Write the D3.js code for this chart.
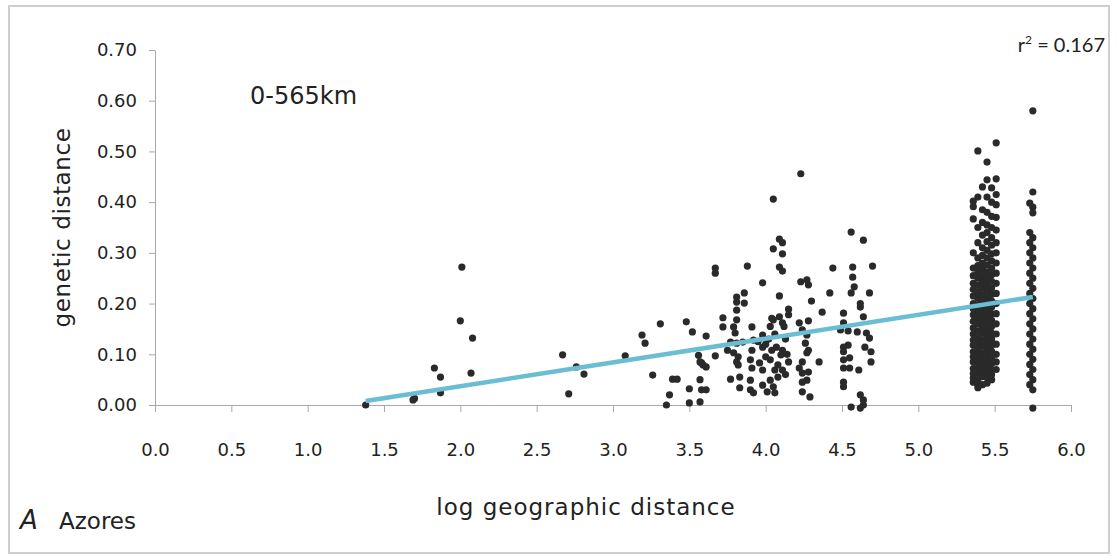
<!DOCTYPE html>
<html>
<head>
<meta charset="utf-8">
<script src="https://cdn.jsdelivr.net/npm/d3@7"></script>
<style>
  body { margin: 0; background: #fff; }
  text { fill: #222; }
</style>
</head>
<body>
<div id="chart"></div>
<script>
//axis ticks
const xTicks = [0, 0.5, 1, 1.5, 2, 2.5, 3, 3.5, 4, 4.5, 5, 5.5, 6];
const yTicks = [0, 0.1, 0.2, 0.3, 0.4, 0.5, 0.6, 0.7];

//pairs [log geographic distance, genetic distance]
const nearPairs = [
  [1.38, 0.000], [1.70, 0.013], [1.69, 0.010], [1.83, 0.073], [1.87, 0.055],
  [1.87, 0.024], [2.01, 0.272], [2.00, 0.166], [2.08, 0.132], [2.07, 0.063],
  [2.67, 0.099], [2.71, 0.022], [2.76, 0.075], [2.81, 0.061]
];

const midPairs = [
  [3.08, 0.097], [3.19, 0.138], [3.21, 0.122], [3.31, 0.160], [3.26, 0.059],
  [3.39, 0.051], [3.42, 0.051], [3.35, 0.000], [3.37, 0.020], [3.48, 0.164],
  [3.52, 0.144], [3.50, 0.032], [3.50, 0.004], [3.61, 0.136], [3.56, 0.098],
  [3.57, 0.085], [3.59, 0.079], [3.61, 0.075], [3.67, 0.097], [3.57, 0.050],
  [3.58, 0.030], [3.57, 0.006], [3.61, 0.030], [3.67, 0.270], [3.67, 0.260],
  [3.88, 0.274], [4.05, 0.406], [4.09, 0.327], [4.11, 0.320], [4.05, 0.308],
  [4.11, 0.298], [4.09, 0.272], [4.11, 0.264], [3.98, 0.241], [3.81, 0.213],
  [3.86, 0.221], [3.81, 0.203], [3.86, 0.201], [3.81, 0.187], [4.09, 0.215],
  [3.72, 0.172], [3.81, 0.168], [3.72, 0.154], [3.79, 0.154], [3.91, 0.154],
  [3.80, 0.142], [3.98, 0.138], [4.04, 0.171], [4.09, 0.174], [4.11, 0.162],
  [3.77, 0.124], [3.81, 0.122], [3.85, 0.124], [3.92, 0.128], [3.75, 0.108],
  [3.79, 0.103], [3.82, 0.095], [3.91, 0.108], [3.98, 0.114], [4.04, 0.108],
  [4.07, 0.114], [4.11, 0.108], [3.58, 0.083], [3.81, 0.085], [3.82, 0.079],
  [3.90, 0.089], [3.91, 0.073], [3.96, 0.083], [3.98, 0.069], [4.03, 0.089],
  [4.06, 0.069], [4.08, 0.079], [4.10, 0.099], [4.11, 0.069], [3.77, 0.051],
  [3.83, 0.055], [3.90, 0.049], [3.98, 0.039], [4.03, 0.049], [4.05, 0.036],
  [3.83, 0.034], [3.90, 0.030], [3.92, 0.024], [4.01, 0.026], [4.06, 0.024],
  [4.00, 0.120], [4.02, 0.130], [4.06, 0.140], [4.13, 0.130], [4.14, 0.100],
  [4.00, 0.095], [4.12, 0.155], [3.95, 0.125], [4.03, 0.155], [4.15, 0.085],
  [4.08, 0.055], [4.13, 0.060], [4.23, 0.456], [4.44, 0.270], [4.56, 0.341],
  [4.64, 0.325], [4.70, 0.274], [4.57, 0.272], [4.57, 0.252], [4.23, 0.243],
  [4.27, 0.247], [4.28, 0.237], [4.42, 0.221], [4.58, 0.233], [4.56, 0.221],
  [4.68, 0.221], [4.30, 0.205], [4.62, 0.200], [4.62, 0.193], [4.37, 0.183],
  [4.51, 0.181], [4.64, 0.174], [4.15, 0.189], [4.15, 0.178], [4.05, 0.168],
  [4.22, 0.162], [4.28, 0.166], [4.51, 0.162], [4.49, 0.148], [4.54, 0.146],
  [4.60, 0.144], [4.66, 0.142], [4.68, 0.132], [4.24, 0.148], [4.27, 0.138],
  [4.26, 0.122], [4.28, 0.108], [4.27, 0.103], [4.51, 0.114], [4.54, 0.118],
  [4.51, 0.105], [4.65, 0.114], [4.69, 0.105], [4.69, 0.085], [4.35, 0.085],
  [4.51, 0.089], [4.55, 0.093], [4.51, 0.073], [4.55, 0.073], [4.61, 0.069],
  [4.24, 0.085], [4.22, 0.073], [4.24, 0.063], [4.28, 0.065], [4.27, 0.049],
  [4.24, 0.045], [4.51, 0.045], [4.51, 0.036], [4.29, 0.016], [4.24, 0.026],
  [4.62, 0.020], [4.64, 0.010], [4.64, 0.000], [4.56, -0.004], [4.62, -0.006]
];

//far island pairs, one list of genetic distances per strip
const far536 = [0.402, 0.391, 0.367, 0.300, 0.270, 0.255, 0.240, 0.228, 0.215, 0.200, 0.190, 0.178,
  0.165, 0.152, 0.140, 0.128, 0.118, 0.105, 0.095, 0.085, 0.072, 0.062, 0.053, 0.045];
const far539 = [0.501, 0.410, 0.350, 0.320, 0.290, 0.275, 0.262, 0.250, 0.236, 0.222, 0.210, 0.197,
  0.184, 0.172, 0.160, 0.146, 0.133, 0.121, 0.110, 0.099, 0.087, 0.074, 0.063, 0.050, 0.040, 0.034];
const far542 = [0.430, 0.385, 0.360, 0.335, 0.310, 0.295, 0.280, 0.268, 0.255, 0.242, 0.230, 0.216,
  0.203, 0.190, 0.178, 0.166, 0.153, 0.141, 0.128, 0.116, 0.103, 0.090, 0.079, 0.068, 0.056, 0.040];
const far545 = [0.479, 0.444, 0.410, 0.380, 0.355, 0.340, 0.322, 0.305, 0.290, 0.276, 0.262, 0.249,
  0.236, 0.224, 0.211, 0.198, 0.186, 0.174, 0.161, 0.148, 0.136, 0.124, 0.112, 0.100, 0.088, 0.077,
  0.066, 0.055, 0.043];
const far548 = [0.428, 0.400, 0.372, 0.350, 0.330, 0.315, 0.298, 0.284, 0.270, 0.257, 0.244, 0.231,
  0.218, 0.205, 0.193, 0.180, 0.167, 0.155, 0.142, 0.130, 0.118, 0.106, 0.094, 0.082, 0.070, 0.060, 0.050];
const far551 = [0.517, 0.446, 0.415, 0.395, 0.370, 0.345, 0.320, 0.300, 0.280, 0.260, 0.240, 0.220,
  0.200, 0.180, 0.160, 0.140, 0.120, 0.100, 0.085, 0.070];
const far573 = [0.398, 0.340, 0.320, 0.300, 0.280, 0.260, 0.240, 0.220, 0.200, 0.180, 0.160, 0.140,
  0.120, 0.100, 0.080, 0.060, 0.040];
const far575 = [0.580, 0.420, 0.390, 0.379, 0.330, 0.310, 0.290, 0.270, 0.250, 0.230, 0.210, 0.190,
  0.170, 0.150, 0.130, 0.110, 0.090, 0.070, 0.050, 0.030, -0.006];

//regression line ends and fit
const trend = [[1.38, 0.008], [5.75, 0.213]];
const rSquared = 0.167;

const farStrips = [
  [5.36, far536], [5.39, far539], [5.42, far542], [5.45, far545],
  [5.48, far548], [5.51, far551], [5.73, far573], [5.75, far575]
];

const points = nearPairs
  .concat(midPairs)
  .concat(farStrips.flatMap(([x, ys]) => ys.map((y) => [x, y])));

//set parameters
const W = 1117;
const H = 557;
const margin = { top: 50, right: 46, bottom: 152, left: 155 };
const width = W - margin.left - margin.right;
const height = H - margin.top - margin.bottom;
const font = "'DejaVu Sans', sans-serif";

const svg = d3
  .select("#chart")
  .append("svg")
  .attr("width", W)
  .attr("height", H);

//frame
svg
  .append("rect")
  .attr("x", 9)
  .attr("y", 6)
  .attr("width", 1100)
  .attr("height", 547)
  .attr("fill", "none")
  .attr("stroke", "#cfcfcf")
  .attr("stroke-width", 2);

const g = svg
  .append("g")
  .attr("transform", `translate(${margin.left}, ${margin.top})`);

const x = d3.scaleLinear().domain([0, 6]).range([0, width]);
const y = d3.scaleLinear().domain([0, 0.7]).range([height, 0]);

//axes
const gx = g
  .append("g")
  .attr("transform", `translate(0, ${height})`)
  .call(
    d3.axisBottom(x).tickValues(xTicks).tickFormat(d3.format(".1f")).tickSize(7).tickPadding(31).tickSizeOuter(0)
  );
const gy = g
  .append("g")
  .call(
    d3.axisLeft(y).tickValues(yTicks).tickFormat(d3.format(".2f")).tickSize(6).tickPadding(12).tickSizeOuter(0)
  );
[gx, gy].forEach((a) => {
  a.selectAll(".domain, line").attr("stroke", "#a8a8a8");
  a.selectAll("text").attr("font-family", font).attr("font-size", 18).attr("fill", "#3a3a3a");
});

//dots
g.selectAll(".dot")
  .data(points)
  .enter()
  .append("circle")
  .attr("class", "dot")
  .attr("cx", (d) => x(d[0]))
  .attr("cy", (d) => y(d[1]))
  .attr("r", 3.6)
  .attr("fill", "#2a2a2a");

//trend line
g.append("path")
  .datum(trend)
  .attr("d", d3.line().x((d) => x(d[0])).y((d) => y(d[1])))
  .attr("stroke", "#6bbdd3")
  .attr("stroke-width", 4.5)
  .attr("fill", "none");

//labels
svg
  .append("text")
  .attr("transform", `translate(70, ${margin.top + height / 2}) rotate(-90)`)
  .attr("text-anchor", "middle")
  .attr("font-family", font)
  .attr("font-size", 23)
  .attr("letter-spacing", 0.6)
  .text("genetic distance");

svg
  .append("text")
  .attr("x", 586)
  .attr("y", 515)
  .attr("text-anchor", "middle")
  .attr("font-family", font)
  .attr("font-size", 23)
  .attr("letter-spacing", 1)
  .text("log geographic distance");

svg
  .append("text")
  .attr("x", 250)
  .attr("y", 104)
  .attr("font-family", font)
  .attr("font-size", 24)
  .text("0-565km");

svg
  .append("text")
  .attr("x", 20)
  .attr("y", 529)
  .attr("font-family", font)
  .attr("font-size", 26)
  .attr("font-style", "italic")
  .text("A");
svg
  .append("text")
  .attr("x", 59)
  .attr("y", 529)
  .attr("font-family", font)
  .attr("font-size", 23)
  .text("Azores");

const r2 = svg
  .append("text")
  .attr("x", 1105)
  .attr("y", 52)
  .attr("text-anchor", "end")
  .attr("font-family", "Lato, sans-serif")
  .attr("font-size", 20);
r2.append("tspan").text("r");
r2.append("tspan").attr("dy", -8).attr("font-size", 12).text("2");
r2.append("tspan").attr("dy", 8).text(` = ${rSquared}`);
</script>
</body>
</html>
